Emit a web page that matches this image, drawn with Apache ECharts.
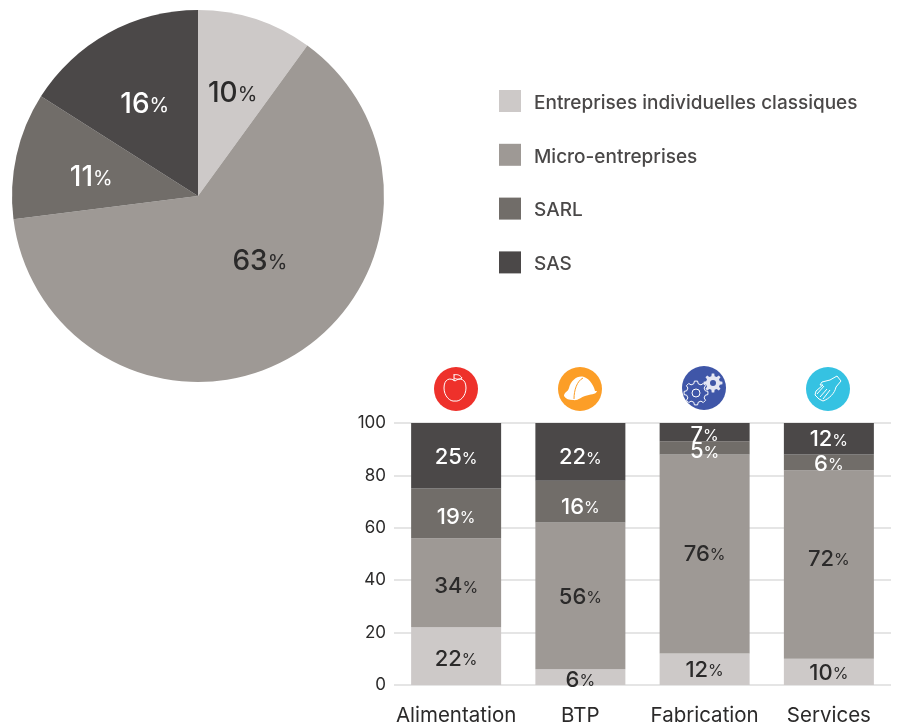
<!DOCTYPE html>
<html>
<head>
<meta charset="utf-8">
<style>
  html, body { margin: 0; padding: 0; background: #fff; }
  #main { width: 899px; height: 724px; }
</style>
<script src="https://cdn.jsdelivr.net/npm/echarts@6/dist/echarts.min.js"></script>
</head>
<body>
<div id="main"></div>
<script>
const typeNames = ['Entreprises individuelles classiques', 'Micro-entreprises', 'SARL', 'SAS']
const pieValues = [10, 63, 11, 16]
const sectors = ['Alimentation', 'BTP', 'Fabrication', 'Services']
const classiques = [22, 6, 12, 10]
const micro = [34, 56, 76, 72]
const sarl = [19, 16, 5, 6]
const sas = [25, 22, 7, 12]

const colors = ['#cdc9c8', '#9e9995', '#716d69', '#4b4848']
const labelColors = ['#2b2a2a', '#2b2a2a', '#ffffff', '#ffffff']
const pieLabelOffsets = [[5, -11], [13, -17], [-13, 3], [-7, -7]]
// decalage vertical des etiquettes, par serie puis par categorie
const barLabelDy = [[3, 3, 1, 1], [4, 1, 0, -5], [4, 6, 4, 2], [2, 6, 3, 1]]
const iconColors = ['#ee312b', '#fc9e27', '#3f56a8', '#35c2e2']
const font = 'Inter'

function richLabel (color, big, small) {
  return {
    color: color,
    fontFamily: font,
    formatter: p => '{n|' + p.value + '}{p|%}',
    rich: {
      n: { fontSize: big, color: color, fontFamily: font, fontWeight: 500 },
      p: { fontSize: small, color: color, fontFamily: font, padding: [2, 0, 0, 0] }
    }
  }
}

// contour d'un engrenage, pour les icones
function gearPoints (cx, cy, r1, r2, teeth) {
  const pts = []
  const step = Math.PI * 2 / teeth
  for (let i = 0; i < teeth; i++) {
    const a = i * step
    ;[[-0.3, r1], [-0.17, r2], [0.17, r2], [0.3, r1]].forEach(q => {
      pts.push([cx + q[1] * Math.cos(a + q[0] * step), cy + q[1] * Math.sin(a + q[0] * step)])
    })
  }
  return pts
}

const iconPaths = {
  pomme: 'M455 381 C450 377 444 379 444 388 C444 396 450 402 455 401 C460 402 466 396 466 388 C466 379 460 377 455 381 Z M454 381 L454 374 M454 375 C457 374 460 375 462 378 C459 380 456 379 454 378',
  casque: 'M564 396 C564 392 568 392 569 388 C571 380 578 375 584 377 C590 379 594 386 595 391 L597 391 C596 395 590 394 585 396 C581 397 578 401 573 400 C569 400 566 399 564 396 Z',
  casqueLigne: 'M574 399 C574 390 577 381 583 378',
  gant: 'M830 380 L837 376 L841 381 L836 387 C835 393 829 399 823 401 L819 399 L815 395 L816 391 L823 385 L820 385 L822 382 Z M827 389 L820 397 M830 390 L823 399 M824 386 L817 394'
}
Object.keys(iconPaths).forEach(k => {
  echarts.graphic.registerShape(k, echarts.graphic.extendPath(iconPaths[k], {}))
})

function icons () {
  const white = { stroke: '#fff', fill: 'none', lineWidth: 1 }
  const cy = 389
  const out = []
  const centers = [456, 580, 704, 828]
  centers.forEach((x, i) => {
    out.push({ type: 'circle', shape: { cx: x, cy: i === 2 ? cy - 1 : cy, r: 22 }, style: { fill: iconColors[i] } })
  })
  out.push({ type: 'pomme', style: white })
  out.push({ type: 'casque', style: { fill: '#fff' } })
  out.push({ type: 'casqueLigne', style: { stroke: iconColors[1], fill: 'none', lineWidth: 1 } })
  out.push({ type: 'polygon', shape: { points: gearPoints(696, 393, 9.5, 12, 8) }, style: white })
  out.push({ type: 'circle', shape: { cx: 696, cy: 393, r: 4 }, style: white })
  out.push({ type: 'polygon', shape: { points: gearPoints(713, 383, 7, 9.5, 8) }, style: { fill: '#e4e6f3' } })
  out.push({ type: 'circle', shape: { cx: 713, cy: 383, r: 3 }, style: { fill: iconColors[2] } })
  out.push({ type: 'gant', style: white })
  return out
}

const barData = [classiques, micro, sarl, sas]
const option = {
  animation: false,
  backgroundColor: '#fff',
  color: colors,
  legend: {
    orient: 'vertical',
    left: 499,
    top: 90,
    padding: 0,
    itemWidth: 22,
    itemHeight: 22,
    itemGap: 31.3,
    selectedMode: false,
    icon: 'rect',
    data: typeNames,
    formatter: name => '{t|' + name + '}',
    textStyle: {
      rich: {
        t: { fontFamily: font, fontSize: 19, fontWeight: 500, color: '#4a4848', padding: [4, 0, 0, 8] }
      }
    }
  },
  grid: { left: 394, right: 8, top: 423, bottom: 39, outerBoundsMode: 'none' },
  xAxis: {
    type: 'category',
    data: sectors,
    axisTick: { show: false },
    axisLine: { show: false },
    axisLabel: { interval: 0, fontFamily: font, fontSize: 20.5, color: '#2b2a2a', margin: 20 }
  },
  yAxis: {
    type: 'value',
    min: 0,
    max: 100,
    interval: 20,
    axisLine: { show: false },
    axisTick: { show: false },
    splitLine: { lineStyle: { color: '#dcdcdc', width: 1.5 } },
    axisLabel: { fontFamily: font, fontSize: 17, color: '#2b2a2a', margin: 8, padding: [2, 0, 0, 0] }
  },
  graphic: icons(),
  series: [
    {
      type: 'pie',
      radius: 186,
      center: [198, 196],
      startAngle: 90,
      clockwise: true,
      silent: true,
      labelLine: { show: false },
      itemStyle: { borderWidth: 0 },
      data: pieValues.map((v, i) => ({
        name: typeNames[i],
        value: v,
        itemStyle: { color: colors[i] },
        label: Object.assign(richLabel(labelColors[i], 28, 20), {
          show: true,
          position: 'inside',
          offset: pieLabelOffsets[i]
        })
      }))
    }
  ].concat(barData.map((vals, i) => ({
    name: typeNames[i],
    type: 'bar',
    stack: 'total',
    barWidth: 90,
    silent: true,
    itemStyle: { color: colors[i] },
    label: Object.assign(richLabel(labelColors[i], 22, 16), { show: true, position: 'inside' }),
    data: vals.map((v, j) => ({ value: v, label: { offset: [0, barLabelDy[i][j]] } }))
  })))
}

const chart = echarts.init(document.getElementById('main'), null, { renderer: 'canvas' })
chart.setOption(option)
</script>
</body>
</html>
